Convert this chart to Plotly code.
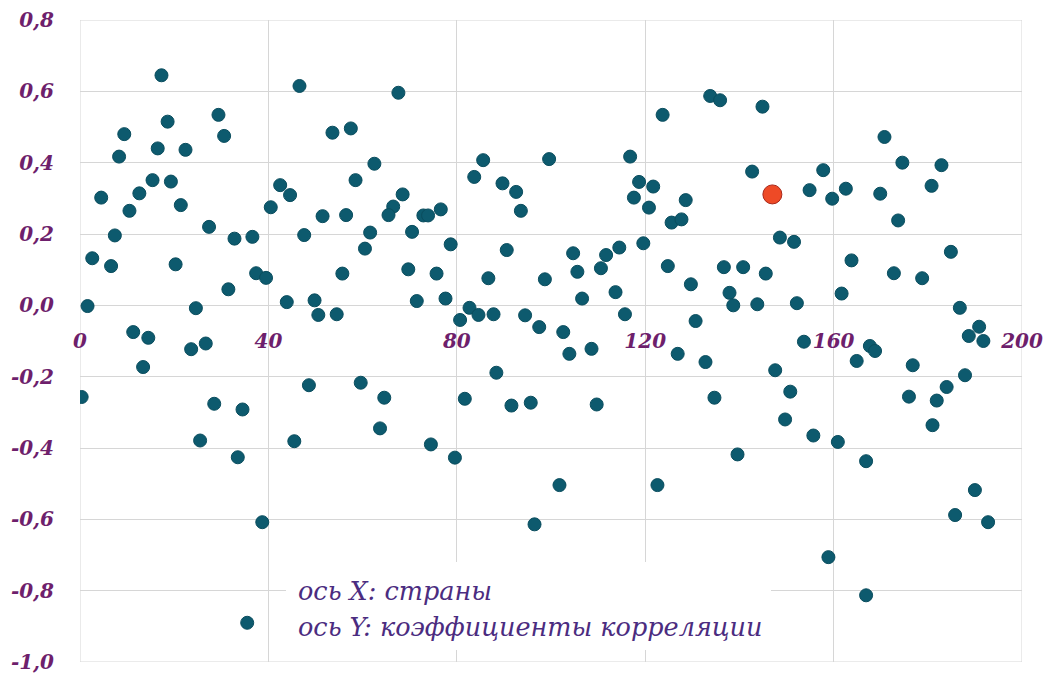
import plotly.graph_objects as go

# --- data ---
country_x = [
    17.3, 29.4, 18.6, 9.4, 30.6, 16.5, 22.4, 8.3, 15.4, 19.3, 12.6, 4.5, 10.5, 21.4,
    42.5, 40.5, 27.4, 7.4, 32.8, 36.6, 2.6, 6.6, 20.3, 37.4, 39.5, 31.5, 1.6, 24.6,
    43.9, 11.3, 14.5, 23.6, 26.7, 13.4, 0.35, 28.5, 34.5, 25.5, 33.5, 38.7, 35.5,
    46.6, 67.6, 53.6, 57.5, 62.5, 85.6, 83.7, 44.6, 58.5, 89.7, 92.6, 68.5, 51.5,
    56.5, 66.5, 65.5, 72.9, 73.9, 76.6, 93.6, 47.6, 61.6, 70.5, 60.5, 78.7, 90.6,
    55.7, 69.7, 75.7, 86.7, 49.8, 50.6, 54.5, 71.5, 77.6, 82.7, 80.7, 84.6, 87.8,
    94.5, 97.5, 48.6, 59.6, 64.6, 88.4, 81.7, 91.6, 95.7, 63.7, 45.5, 74.5, 79.6,
    96.5, 133.8, 135.9, 144.9, 123.7, 99.6, 116.8, 142.7, 118.7, 121.7, 117.6,
    120.8, 128.6, 125.6, 127.7, 148.6, 151.6, 119.6, 104.7, 114.5, 111.7, 105.6,
    110.6, 98.7, 124.8, 136.7, 140.8, 145.6, 129.7, 106.6, 113.7, 137.9, 138.7,
    143.8, 152.2, 102.6, 115.7, 130.7, 103.9, 108.6, 126.9, 132.8, 147.6, 150.8,
    149.7, 134.7, 109.7, 139.6, 101.8, 122.6, 170.8, 174.6, 182.9, 157.8, 180.8,
    154.9, 162.6, 169.9, 159.7, 173.7, 184.9, 163.8, 172.8, 178.8, 161.7, 186.8,
    190.9, 153.7, 167.7, 168.8, 164.9, 188.7, 191.8, 176.8, 187.9, 184.0, 181.9,
    176.0, 181.0, 155.7, 160.9, 166.9, 190.0, 185.8, 192.8, 158.9, 166.9,
]
correlation = [
    0.645, 0.534, 0.515, 0.48, 0.475, 0.44, 0.436, 0.417, 0.351, 0.347, 0.314, 0.302, 0.265, 0.281,
    0.337, 0.275, 0.22, 0.196, 0.187, 0.192, 0.132, 0.110, 0.115, 0.09, 0.077, 0.045, -0.002, -0.008,
    0.009, -0.075, -0.091, -0.123, -0.107, -0.173, -0.257, -0.276, -0.292, -0.379, -0.426, -0.608, -0.89,
    0.615, 0.596, 0.484, 0.496, 0.397, 0.407, 0.36, 0.309, 0.351, 0.342, 0.318, 0.311, 0.25,
    0.253, 0.277, 0.253, 0.252, 0.252, 0.269, 0.265, 0.197, 0.204, 0.206, 0.159, 0.171, 0.155,
    0.089, 0.101, 0.089, 0.076, 0.014, -0.027, -0.025, 0.012, 0.019, -0.007, -0.041, -0.027, -0.025,
    -0.028, -0.061, -0.224, -0.217, -0.259, -0.189, -0.262, -0.281, -0.273, -0.345, -0.381, -0.39, -0.427,
    -0.614, 0.587, 0.575, 0.557, 0.534, 0.41, 0.417, 0.375, 0.346, 0.333, 0.302,
    0.274, 0.295, 0.232, 0.241, 0.19, 0.178, 0.174, 0.146, 0.162, 0.141, 0.094,
    0.104, 0.073, 0.11, 0.107, 0.107, 0.089, 0.059, 0.019, 0.037, 0.035, 0.0,
    0.003, 0.006, -0.075, -0.025, -0.044, -0.136, -0.122, -0.136, -0.159, -0.182, -0.242,
    -0.32, -0.259, -0.278, -0.418, -0.504, -0.504, 0.472, 0.4, 0.393, 0.379, 0.335,
    0.323, 0.327, 0.313, 0.299, 0.238, 0.15, 0.126, 0.09, 0.076, 0.033, -0.007,
    -0.06, -0.102, -0.114, -0.128, -0.156, -0.086, -0.1, -0.168, -0.196, -0.229, -0.267,
    -0.256, -0.336, -0.365, -0.383, -0.437, -0.518, -0.588, -0.608, -0.706, -0.813,
]
highlight_x = [147.0]
highlight_y = [0.311]

x_tick_vals = [0, 40, 80, 120, 160, 200]
x_tick_text = ["0", "40", "80", "120", "160", "200"]
y_tick_vals = [0.8, 0.6, 0.4, 0.2, 0.0, -0.2, -0.4, -0.6, -0.8, -1.0]
y_tick_text = ["0,8", "0,6", "0,4", "0,2", "0,0", "-0,2", "-0,4", "-0,6", "-0,8", "-1,0"]

legend_lines = ["ось X: страны", "ось Y: коэффициенты корреляции"]

TICK_COLOR = "#6e1f6c"
TEXT_COLOR = "#4b2c80"
GRID = "#d6d6d6"

fig = go.Figure()
fig.add_trace(go.Scatter(
    x=country_x, y=correlation, mode="markers",
    marker=dict(size=13, color="#0d5a6e", line=dict(width=1, color="#0a4d5e")),
    showlegend=False, hoverinfo="x+y",
))
fig.add_trace(go.Scatter(
    x=highlight_x, y=highlight_y, mode="markers",
    marker=dict(size=19, color="#ee4a26", line=dict(width=1, color="#a8281a")),
    showlegend=False, hoverinfo="x+y",
))

tickfont = dict(family="DejaVu Serif", size=20, color=TICK_COLOR,
                weight="bold", style="italic")

y_min, y_max = -1.0, 0.8
zero_pos = (0 - y_min) / (y_max - y_min)

fig.update_layout(
    width=1044, height=676,
    margin=dict(l=80, r=22, t=20, b=14),
    paper_bgcolor="white", plot_bgcolor="white",
    xaxis=dict(
        range=[0, 200], tickvals=x_tick_vals, ticktext=x_tick_text,
        showgrid=True, gridcolor=GRID, gridwidth=1, zeroline=False,
        showline=False, anchor="free", position=zero_pos,
        ticks="outside", ticklen=18, tickcolor="rgba(0,0,0,0)",
        tickfont=tickfont, automargin=False, ticklabeloverflow="allow",
    ),
    yaxis=dict(
        range=[y_min, y_max], tickvals=y_tick_vals, ticktext=y_tick_text,
        showgrid=True, gridcolor=GRID, gridwidth=1, zeroline=False,
        showline=False, ticks="outside", ticklen=21, tickcolor="rgba(0,0,0,0)",
        tickfont=tickfont, automargin=False, ticklabeloverflow="allow",
    ),
)

# plot frame
fig.add_shape(type="rect", xref="x", yref="y", x0=0, x1=200, y0=y_min, y1=y_max,
              line=dict(color=GRID, width=1), layer="below")

# white box behind the legend text
fig.add_annotation(
    x=95.2, y=-0.8435, xref="x", yref="y", text=" ", showarrow=False,
    width=483, height=86, bgcolor="white", borderwidth=0,
)

for i, line in enumerate(legend_lines):
    fig.add_annotation(
        x=45.9, y=-0.80 - 0.102 * i, xref="x", yref="y",
        text=line, showarrow=False, xanchor="left", yanchor="middle",
        font=dict(family="DejaVu Serif", size=25.5, color=TEXT_COLOR, style="italic"),
    )

fig.write_html(
    "out.html",
    config={"displayModeBar": False},
    post_script="document.body.style.margin='0';document.body.style.overflow='hidden';",
)
